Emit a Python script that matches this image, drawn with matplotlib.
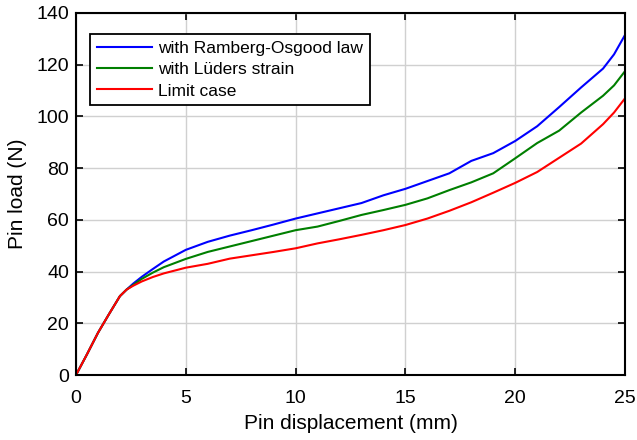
import numpy as np
import matplotlib.pyplot as plt

plt.rcParams['font.family'] = ['Liberation Sans', 'DejaVu Sans']

# pin displacement (mm)
disp = [0, 0.5, 1, 1.5, 2, 2.3, 2.6, 3, 3.5, 4, 5, 6, 7, 8, 9, 10, 11, 12, 13, 14,
        15, 16, 17, 18, 19, 20, 21, 22, 23, 24, 24.5, 25]
# pin load (N)
load_ro = [0, 8, 16.3, 23.5, 30.5, 33, 35.3, 38, 41, 43.9, 48.4, 51.5, 53.9, 56, 58.2,
           60.5, 62.5, 64.5, 66.5, 69.5, 72, 75, 78, 82.8, 85.8, 90.5, 96.2, 103.6,
           111.2, 118.5, 124, 131.5]
load_luders = [0, 8, 16.3, 23.5, 30.5, 33, 34.8, 37.2, 39.6, 41.7, 44.9, 47.6, 49.7,
               51.8, 53.9, 56, 57.4, 59.6, 61.9, 63.8, 65.8, 68.3, 71.5, 74.5, 78, 83.8,
               89.7, 94.5, 101.5, 108, 112, 117.5]
load_limit = [0, 8, 16.3, 23.5, 30.5, 33, 34.5, 36.2, 37.9, 39.3, 41.5, 43, 45, 46.3,
              47.6, 49, 50.9, 52.5, 54.2, 56, 58, 60.5, 63.5, 66.8, 70.5, 74.3, 78.5,
              84, 89.5, 97, 101.5, 107]
labels = ['with Ramberg-Osgood law', 'with Lüders strain', 'Limit case']

fig = plt.figure(figsize=(6.37, 4.4), dpi=100)
ax = fig.add_axes([0.1193, 0.1477, 0.8619, 0.8228])

ax.plot(disp, load_ro, color='#0000ff', lw=1.5, label=labels[0])
ax.plot(disp, load_luders, color='#007f00', lw=1.5, label=labels[1])
ax.plot(disp, load_limit, color='#ff0000', lw=1.5, label=labels[2])

ax.set_xlim(0, 25)
ax.set_ylim(0, 140)
ax.set_xticks(np.arange(0, 26, 5))
ax.set_yticks(np.arange(0, 141, 20))
ax.grid(True, color='#d0d0d0', lw=1)
ax.set_axisbelow(True)
ax.tick_params(direction='in', top=True, right=True, length=5, width=1.2,
               labelsize=14)
ax.tick_params(axis='x', pad=11)
ax.tick_params(axis='y', pad=5)
for s in ax.spines.values():
    s.set_linewidth(1.5)

ax.set_xlabel('Pin displacement (mm)', fontsize=15, labelpad=5)
ax.set_ylabel('Pin load (N)', fontsize=15, labelpad=7)

leg = ax.legend(loc='upper left', bbox_to_anchor=(0.0255, 0.942), fontsize=12.5,
                borderaxespad=0, fancybox=False, framealpha=1, edgecolor='black',
                handlelength=3.15, handletextpad=0.35, borderpad=0.4,
                labelspacing=0.35)
leg.get_frame().set_linewidth(1.3)

fig.savefig('out.png', dpi=100)
